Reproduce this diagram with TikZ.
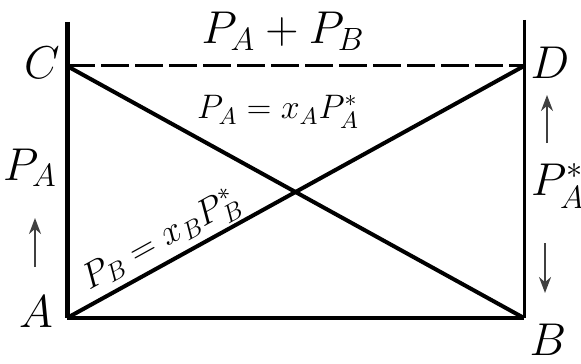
\RequirePackage{fix-cm}
\documentclass[tikz,border=0pt]{standalone}
\usepackage{amsmath}
\usetikzlibrary{arrows.meta}

\tikzset{
  biglabel/.style={font=\fontsize{23}{27}\selectfont, inner sep=0pt},
  linelabel/.style={font=\fontsize{17}{20}\selectfont, inner sep=1pt},
  flowarrow/.style={-{Stealth[length=8pt, width=6pt]}, line width=1.1pt, black!75},
}

\begin{document}
\begin{tikzpicture}[x=0.5pt, y=-0.5pt]
  \useasboundingbox (0,0) rectangle (581,363);

  % Corners of the diagram
  \coordinate (C) at (67,66);
  \coordinate (D) at (524,66);
  \coordinate (A) at (67,318);
  \coordinate (B) at (524,318);
  \coordinate (Ctop) at (67,22);
  \coordinate (Dtop) at (524,20);

  % Sides
  \draw[line width=2.5pt] (Ctop) -- (A);
  \draw[line width=1.5pt] (Dtop) -- (B);
  \draw[line width=2pt] (A) -- (B);
  \draw[line width=1.5pt, dash pattern=on 14pt off 3pt] (C) -- (D);

  % Diagonals
  \draw[line width=2pt] (C) -- (B);
  \draw[line width=2pt] (A) -- (D)
    node[linelabel, font=\fontsize{18}{21}\selectfont, pos=0.23, sloped, above=0pt] (lPB) {$P_B = x_B P_B^{*}$};

  % Corner letters
  \node[biglabel] (lC) at (42,63) {$C$};
  \node[biglabel] (lD) at (550,63) {$D$};
  \node[biglabel] (lA) at (36,312) {$A$};
  \node[biglabel] (lB) at (548,340) {$B$};

  % Pressure labels
  \node[biglabel, anchor=base] (lsum) at (283,44) {$P_A + P_B$};
  \node[linelabel] (lPAx) at (278,112) {$P_A = x_A P_A^{*}$};
  \node[biglabel, anchor=base] (lPA) at (30,180) {$P_A$};
  \node[biglabel] (lPAstar) at (558,186) {$P_A^{*}$};

  % Arrows beside the sides
  \coordinate (lt) at (35,267);
  \coordinate (lh) at (35,218);
  \coordinate (rut) at (547,143);
  \coordinate (ruh) at (547,95);
  \coordinate (rdt) at (545,243);
  \coordinate (rdh) at (545,293);
  \draw[flowarrow] (lt) -- (lh);
  \draw[flowarrow] (rut) -- (ruh);
  \draw[flowarrow] (rdt) -- (rdh);
\end{tikzpicture}
\end{document}
